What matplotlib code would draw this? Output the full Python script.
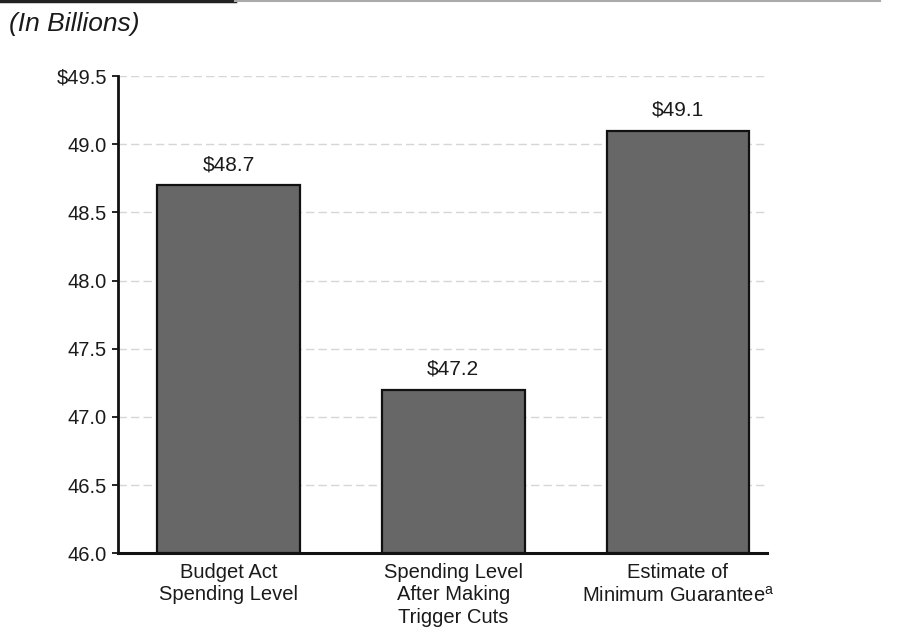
import matplotlib
matplotlib.use("Agg")
import matplotlib.pyplot as plt
from matplotlib.lines import Line2D
from matplotlib.ticker import FuncFormatter

plt.rcParams['font.family'] = ['Liberation Sans', 'DejaVu Sans']
plt.rcParams['mathtext.fontset'] = 'custom'
plt.rcParams['mathtext.rm'] = 'Liberation Sans'
plt.rcParams['mathtext.it'] = 'Liberation Sans:italic'

# spending levels, in billions
categories = ["Budget Act\nSpending Level",
              "Spending Level\nAfter Making\nTrigger Cuts",
              "Estimate of\nMinimum Guarantee$^{\\mathrm{a}}$"]
values = [48.7, 47.2, 49.1]
y_ticks = [46.0, 46.5, 47.0, 47.5, 48.0, 48.5, 49.0, 49.5]

fig = plt.figure(figsize=(9, 6.33), dpi=100)
ax = fig.add_axes([0.131, 0.126, 0.721, 0.754])

x = list(range(len(categories)))
ax.bar(x, [v - y_ticks[0] for v in values], bottom=y_ticks[0], width=0.635,
       color='#676767', edgecolor='#111111', linewidth=1.6, zorder=3)

for xi, v in zip(x, values):
    ax.text(xi, v + 0.08, f"\\${v:.1f}", ha='center', va='bottom',
            fontsize=15, color='#1a1a1a', zorder=4)

ax.set_xlim(-0.493, 2.396)
ax.set_ylim(y_ticks[0], y_ticks[-1])
ax.set_yticks(y_ticks)
top = y_ticks[-1]
ax.yaxis.set_major_formatter(FuncFormatter(
    lambda v, pos: f"\\${v:.1f}" if abs(v - top) < 1e-9 else f"{v:.1f}"))
ax.set_xticks(x)
ax.set_xticklabels(categories, fontsize=14.5, color='#1a1a1a', linespacing=1.22)
ax.tick_params(axis='x', length=0, pad=7)
ax.tick_params(axis='y', length=4, width=1.2, labelsize=14.5, labelcolor='#1a1a1a', pad=4)

ax.yaxis.grid(True, color='#d6d6d6', linestyle=(0, (6, 3)), linewidth=1.0, zorder=0)
ax.set_axisbelow(True)
for side in ('top', 'right'):
    ax.spines[side].set_visible(False)
ax.spines['left'].set_linewidth(2.0)
ax.spines['bottom'].set_linewidth(2.2)
ax.spines['left'].set_color('#111111')
ax.spines['bottom'].set_color('#111111')

fig.text(9 / 900, 1 - 24 / 633, "(In Billions)", fontsize=19, style='italic',
         color='#1a1a1a', ha='left', va='center')

# header rule across the top
fig.add_artist(Line2D([0, 235 / 900], [0.998, 0.998], color='#222222', linewidth=2.5))
fig.add_artist(Line2D([235 / 900, 880 / 900], [0.998, 0.998], color='#aaaaaa', linewidth=1.5))

fig.savefig("out.png", dpi=100, facecolor='white')
